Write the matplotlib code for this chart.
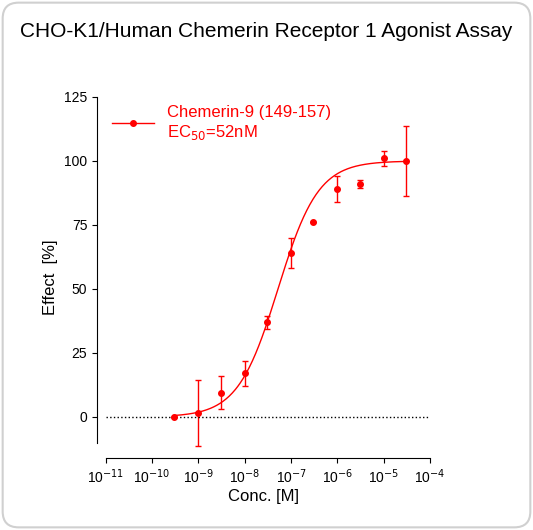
import numpy as np
import matplotlib
matplotlib.use("Agg")
import matplotlib.pyplot as plt
from matplotlib.patches import FancyBboxPatch

conc = [3e-10, 1e-9, 3e-9, 1e-8, 3e-8, 1e-7, 3e-7, 1e-6, 3e-6, 1e-5, 3e-5]
effect = [0, 1.5, 9.5, 17, 37, 64, 76, 89, 91, 101, 100]
err = [0, 13, 6.5, 5, 2.5, 6, 0, 5, 1.5, 3, 13.5]
ec50 = 52e-9
top, bottom, hill = 100, 0, 1.0

plt.rcParams['font.family'] = ['Liberation Sans', 'DejaVu Sans']
fig = plt.figure(figsize=(5.33, 5.30), dpi=100)
fig.patches.append(FancyBboxPatch((0.005, 0.005), 0.99, 0.99, boxstyle="round,pad=0,rounding_size=0.03",
                                  transform=fig.transFigure, fc='white', ec='#d0d0d0', lw=1.5, zorder=-10))
fig.text(0.5, 0.94, "CHO-K1/Human Chemerin Receptor 1 Agonist Assay", ha='center', va='center', fontsize=15)
ax = fig.add_axes([0.182, 0.136, 0.625, 0.681])
ax.patch.set_alpha(0)
ax.set_xscale('log')
ax.set_xlim(10**-11.19, 1e-4)
ax.set_ylim(-16, 125)
red = '#ff0000'
xs = np.logspace(np.log10(3e-10), np.log10(3e-5), 300)
ys = bottom + (top - bottom) / (1 + (ec50 / xs) ** hill)
ax.plot(xs, ys, color=red, lw=1)
ax.errorbar(conc, effect, yerr=err, fmt='o', color=red, ms=4, capsize=2, elinewidth=1, capthick=1)
ax.plot([1e-11, 1e-4], [0, 0], ls=':', color='black', lw=1)
for s in ['top', 'right']:
    ax.spines[s].set_visible(False)
ax.spines['left'].set_bounds(-10, 125)
ax.spines['bottom'].set_bounds(1e-11, 1e-4)
ax.set_yticks([0, 25, 50, 75, 100, 125])
ax.set_xticks([10.0**k for k in range(-11, -3)])
ax.set_xticklabels([f"10$^{{{k}}}$" for k in range(-11, -3)])
ax.tick_params(labelsize=10)
ax.set_xlabel("Conc. [M]", fontsize=12, labelpad=2)
ax.set_ylabel("Effect  [%]", fontsize=12)
ax.plot([], [], '-o', color=red, ms=4, lw=1, label="Chemerin-9 (149-157)\nEC$_{50}$=52nM")
h, l = ax.get_legend_handles_labels()
leg = ax.legend([h[-1]], [l[-1]], loc='upper left', frameon=False, fontsize=12,
                bbox_to_anchor=(0.0, 1.02), handlelength=2.5)
for t in leg.get_texts():
    t.set_color(red)
fig.savefig("out.png", dpi=100)
